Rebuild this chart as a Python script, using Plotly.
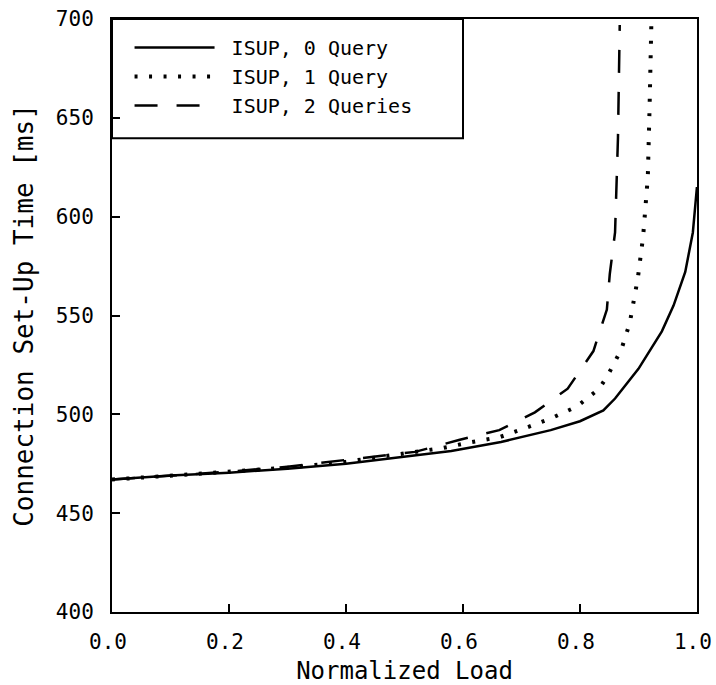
import plotly.graph_objects as go

# Normalized load vs. connection set-up time (ms)
load_0q = [0.0, 0.1, 0.2, 0.3, 0.4, 0.5, 0.58, 0.665, 0.75, 0.8, 0.84, 0.86, 0.9, 0.94, 0.96, 0.98, 0.993, 1.0]
time_0q = [467, 469, 470.5, 472.5, 475, 478.5, 481.5, 486, 492, 496.5, 502, 508, 523, 542, 555, 572, 592, 615]

load_1q = [0.0, 0.1, 0.2, 0.3, 0.4, 0.5, 0.566, 0.615, 0.663, 0.706, 0.751, 0.795, 0.833, 0.848,
           0.871, 0.885, 0.899, 0.908, 0.916, 0.919, 0.922]
time_1q = [467, 469, 471, 473, 476, 480, 483, 486, 488.5, 493, 498, 504, 513, 520,
           533, 546, 569, 590, 620, 655, 697]

load_2q = [0.0, 0.1, 0.2, 0.3, 0.4, 0.518, 0.593, 0.662, 0.723, 0.779, 0.823, 0.846, 0.851, 0.86, 0.865, 0.868]
time_2q = [467, 469, 471, 473.5, 477, 481, 487, 492, 501, 513, 532, 553, 571, 592, 640, 697]

x_ticks = [0, 0.2, 0.4, 0.6, 0.8, 1.0]
x_labels = ['0.0', '0.2', '0.4', '0.6', '0.8', '1.0']
y_ticks = [400, 450, 500, 550, 600, 650, 700]

font_family = 'DejaVu Sans Mono'

fig = go.Figure()
fig.add_trace(go.Scatter(x=load_0q, y=time_0q, mode='lines', name=' ISUP, 0 Query',
                         line=dict(color='black', width=2.5)))
fig.add_trace(go.Scatter(x=load_1q, y=time_1q, mode='lines', name=' ISUP, 1 Query',
                         line=dict(color='black', width=4, dash='3px,11.5px')))
fig.add_trace(go.Scatter(x=load_2q, y=time_2q, mode='lines', name=' ISUP, 2 Queries',
                         line=dict(color='black', width=2.5, dash='23px,19px')))

# legend frame
fig.add_shape(type='rect', xref='paper', yref='paper', x0=0, x1=0.6, y0=0.799, y1=1,
              line=dict(color='black', width=2))

fig.update_layout(
    width=716, height=685,
    margin=dict(l=112, r=19, t=19, b=73),
    paper_bgcolor='white', plot_bgcolor='white',
    font=dict(family=font_family, size=21, color='black'),
    showlegend=True,
    legend=dict(x=0.03, y=0.985, xanchor='left', yanchor='top',
                bgcolor='rgba(0,0,0,0)', itemwidth=80,
                font=dict(family=font_family, size=20)),
    xaxis=dict(
        range=[0, 1.0001], tickvals=x_ticks, ticktext=x_labels,
        ticks='inside', ticklen=8, tickwidth=2, tickcolor='black',
        showline=True, linecolor='black', linewidth=2, mirror=True,
        showgrid=False, zeroline=False, automargin=False,
        ticklabelstandoff=10, ticklabeloverflow='allow', ticklabelshift=-4,
        title=dict(text='Normalized Load', font=dict(size=24), standoff=10),
    ),
    yaxis=dict(
        range=[400, 700], tickvals=y_ticks,
        ticks='inside', ticklen=8, tickwidth=2, tickcolor='black',
        showline=True, linecolor='black', linewidth=2, mirror=True,
        showgrid=False, zeroline=False, automargin=False,
        ticklabelstandoff=12, ticklabeloverflow='allow',
        title=dict(text='Connection Set-Up Time [ms]', font=dict(size=26)),
    ),
)

# drop the default page margin so the figure fills the window; hide the modebar
fig.write_html("out.html", config={'displayModeBar': False},
               post_script="document.body.style.margin='0';")
